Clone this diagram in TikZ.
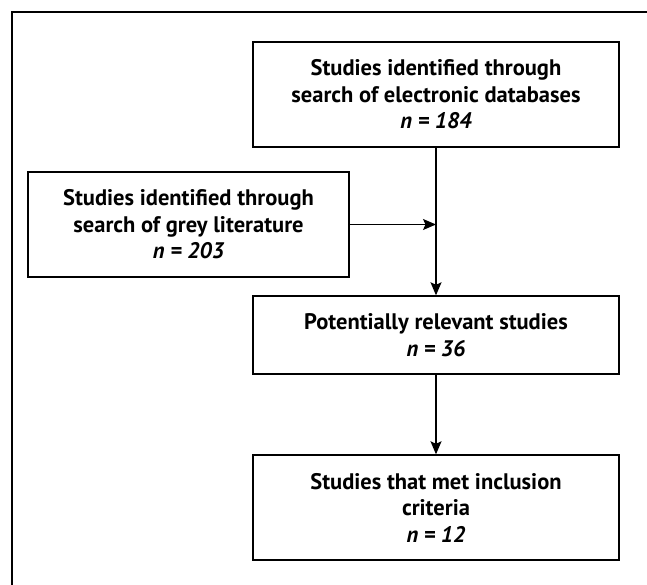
\documentclass[tikz,border=0pt]{standalone}
\usepackage{fontspec}
\setmainfont{PT Sans}
\usetikzlibrary{arrows.meta}
\begin{document}
\begin{tikzpicture}[x=1pt,y=-1pt,
  box/.style={draw,line width=1.4pt,align=center,inner sep=0pt,
    font=\bfseries\fontsize{22.5}{26.5}\selectfont},
  arr/.style={line width=1.2pt,-{Stealth[length=13pt,width=11pt,inset=2.5pt]}},
  frame/.style={line width=1.5pt}]
\useasboundingbox (0,0) rectangle (647,585);
\draw[frame] (12,585) -- (12,12) -- (647,12);
\node[box,minimum width=366pt,minimum height=105pt] (b1) at (436,94.5)
  {Studies identified through\\search of electronic databases\\{\itshape n = 184}};
\node[box,minimum width=321pt,minimum height=105pt] (b2) at (188.5,224.5)
  {Studies identified through\\search of grey literature\\{\itshape n = 203}};
\node[box,minimum width=366pt,minimum height=78pt] (b3) at (436,335)
  {Potentially relevant studies\\{\itshape n = 36}};
\node[box,minimum width=366pt,minimum height=105pt] (b4) at (436,507.5)
  {Studies that met inclusion\\criteria\\{\itshape n = 12}};
\draw[arr] (b1.south) -- (b3.north);
\draw[arr] (b2.east) -- (b2.east -| b1.south);
\draw[arr] (b3.south) -- (b4.north);
\end{tikzpicture}
\end{document}
